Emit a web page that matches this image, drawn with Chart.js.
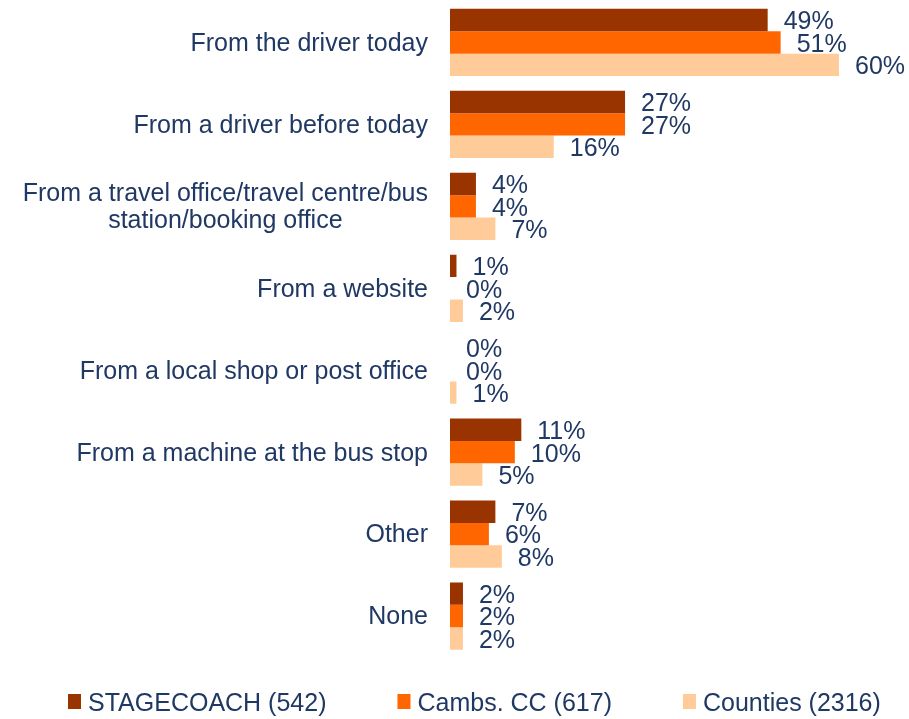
<!DOCTYPE html>
<html>
<head>
<meta charset="utf-8">
<script src="https://cdn.jsdelivr.net/npm/chart.js@4/dist/chart.umd.min.js"></script>
<style>
  html, body { margin: 0; padding: 0; background: #fff; }
  #wrap { width: 909px; height: 719px; }
</style>
</head>
<body>
<div id="wrap"><canvas id="barChart"></canvas></div>
<script>
var categories = [
  'From the driver today',
  'From a driver before today',
  ['From a travel office/travel centre/bus', 'station/booking office'],
  'From a website',
  'From a local shop or post office',
  'From a machine at the bus stop',
  'Other',
  'None'
]
var seriesNames = ['STAGECOACH (542)', 'Cambs. CC (617)', 'Counties (2316)']
var stagecoach = [49, 27, 4, 1, 0, 11, 7, 2]
var cambsCC    = [51, 27, 4, 0, 0, 10, 6, 2]
var counties   = [60, 16, 7, 2, 1, 5, 8, 2]
var colors = ['#993300', '#FF6600', '#FFCC99']

var textColor = '#1F3864'
var fontFamily = "'Liberation Sans', Arial, sans-serif"

// category labels on the left: block right-aligned, lines centred inside the block
var categoryLabels = {
  id: 'categoryLabels',
  afterDraw: function (chart) {
    var ctx = chart.ctx
    var yScale = chart.scales.y
    var right = 428
    ctx.save()
    ctx.font = '25px ' + fontFamily
    ctx.fillStyle = textColor
    ctx.textAlign = 'center'
    ctx.textBaseline = 'middle'
    categories.forEach(function (label, i) {
      var lines = Array.isArray(label) ? label : [label]
      var widest = 0
      lines.forEach(function (l) { widest = Math.max(widest, ctx.measureText(l).width) })
      var cy = yScale.getPixelForValue(i)
      var lineH = 27
      var y0 = cy - (lines.length - 1) * lineH / 2 + 1.5
      lines.forEach(function (l, k) {
        ctx.fillText(l, right - widest / 2, y0 + k * lineH)
      })
    })
    ctx.restore()
  }
}

// percentage labels next to each bar
var valueLabels = {
  id: 'valueLabels',
  afterDatasetsDraw: function (chart) {
    var ctx = chart.ctx
    ctx.save()
    ctx.font = '25px ' + fontFamily
    ctx.fillStyle = textColor
    ctx.textAlign = 'left'
    ctx.textBaseline = 'middle'
    chart.data.datasets.forEach(function (ds, di) {
      chart.getDatasetMeta(di).data.forEach(function (bar, i) {
        ctx.fillText(ds.data[i] + '%', bar.x + 16, bar.y + 2.5)
      })
    })
    ctx.restore()
  }
}

// legend along the bottom
var bottomLegend = {
  id: 'bottomLegend',
  afterDraw: function (chart) {
    var ctx = chart.ctx
    ctx.save()
    ctx.font = '25px ' + fontFamily
    ctx.textBaseline = 'middle'
    ctx.textAlign = 'left'
    var x = 68
    var y = 702
    chart.data.datasets.forEach(function (ds) {
      ctx.fillStyle = ds.backgroundColor
      ctx.fillRect(x, y - 8, 13, 15)
      ctx.fillStyle = textColor
      ctx.fillText(ds.label, x + 20, y + 2)
      x += 20 + ctx.measureText(ds.label).width + 71
    })
    ctx.restore()
  }
}

var barData = {
  labels: categories,
  datasets: [
    { label: seriesNames[0], data: stagecoach, backgroundColor: colors[0] },
    { label: seriesNames[1], data: cambsCC,    backgroundColor: colors[1] },
    { label: seriesNames[2], data: counties,   backgroundColor: colors[2] }
  ]
}

var barOptions = {
  indexAxis: 'y',
  responsive: true,
  maintainAspectRatio: false,
  animation: false,
  layout: { padding: { left: 0, right: 0, top: 1.5, bottom: 62 } },
  datasets: {
    bar: { categoryPercentage: 0.82, barPercentage: 1.0, borderWidth: 0 }
  },
  plugins: {
    legend: { display: false },
    tooltip: { enabled: false }
  },
  scales: {
    x: {
      display: false,
      min: 0,
      max: 70.8
    },
    y: {
      grid: { display: false },
      border: { display: false },
      ticks: { display: false },
      afterFit: function (scale) { scale.width = 450 }
    }
  }
}

var barChart = new Chart(document.getElementById('barChart').getContext('2d'), {
  type: 'bar',
  data: barData,
  options: barOptions,
  plugins: [categoryLabels, valueLabels, bottomLegend]
})
</script>
</body>
</html>
